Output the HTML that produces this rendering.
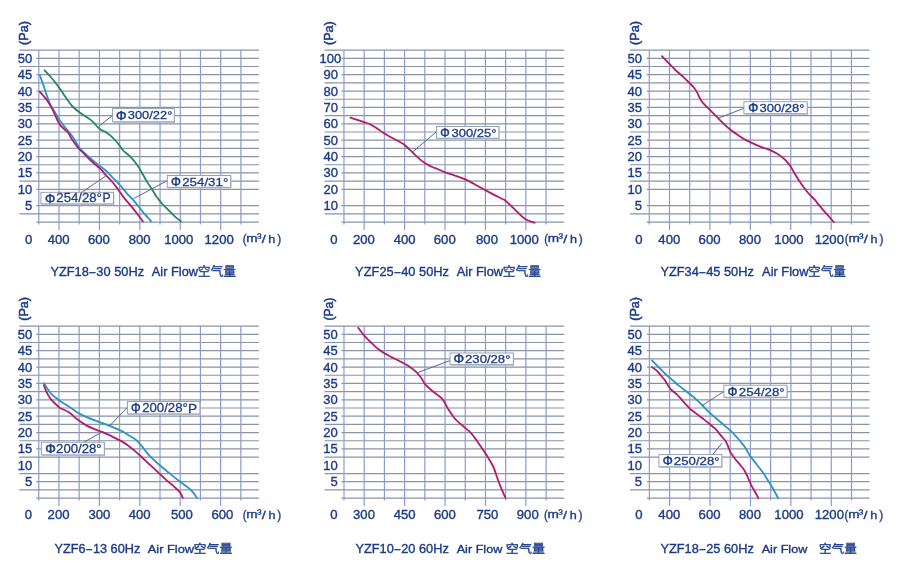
<!DOCTYPE html><html><head><meta charset="utf-8"><title>Fan curves</title><style>html,body{margin:0;padding:0;background:#fff;width:900px;height:578px;overflow:hidden;}svg{display:block;}</style></head><body>
<svg width="900" height="578" viewBox="0 0 900 578">
<rect width="900" height="578" fill="#fff"/>
<line x1="19.4" y1="50.11" x2="259" y2="50.11" stroke="#8893a8" stroke-width="1.2"/>
<line x1="36.3" y1="58.3" x2="259" y2="58.3" stroke="#8893a8" stroke-width="1.2"/>
<line x1="19.4" y1="66.49" x2="259" y2="66.49" stroke="#8893a8" stroke-width="1.2"/>
<line x1="36.3" y1="74.68" x2="259" y2="74.68" stroke="#8893a8" stroke-width="1.2"/>
<line x1="19.4" y1="82.87" x2="259" y2="82.87" stroke="#8893a8" stroke-width="1.2"/>
<line x1="36.3" y1="91.06" x2="259" y2="91.06" stroke="#8893a8" stroke-width="1.2"/>
<line x1="19.4" y1="99.25" x2="259" y2="99.25" stroke="#8893a8" stroke-width="1.2"/>
<line x1="36.3" y1="107.44" x2="259" y2="107.44" stroke="#8893a8" stroke-width="1.2"/>
<line x1="19.4" y1="115.63" x2="259" y2="115.63" stroke="#8893a8" stroke-width="1.2"/>
<line x1="36.3" y1="123.82" x2="259" y2="123.82" stroke="#8893a8" stroke-width="1.2"/>
<line x1="19.4" y1="132.01" x2="259" y2="132.01" stroke="#8893a8" stroke-width="1.2"/>
<line x1="36.3" y1="140.2" x2="259" y2="140.2" stroke="#8893a8" stroke-width="1.2"/>
<line x1="19.4" y1="148.39" x2="259" y2="148.39" stroke="#8893a8" stroke-width="1.2"/>
<line x1="36.3" y1="156.58" x2="259" y2="156.58" stroke="#8893a8" stroke-width="1.2"/>
<line x1="19.4" y1="164.77" x2="259" y2="164.77" stroke="#8893a8" stroke-width="1.2"/>
<line x1="36.3" y1="172.96" x2="259" y2="172.96" stroke="#8893a8" stroke-width="1.2"/>
<line x1="19.4" y1="181.15" x2="259" y2="181.15" stroke="#8893a8" stroke-width="1.2"/>
<line x1="36.3" y1="189.34" x2="259" y2="189.34" stroke="#8893a8" stroke-width="1.2"/>
<line x1="36.3" y1="205.72" x2="259" y2="205.72" stroke="#8893a8" stroke-width="1.2"/>
<line x1="19.4" y1="213.91" x2="259" y2="213.91" stroke="#8893a8" stroke-width="1.2"/>
<line x1="36.3" y1="222.1" x2="259" y2="222.1" stroke="#8893a8" stroke-width="1.2"/>
<line x1="38.8" y1="50.11" x2="38.8" y2="224.4" stroke="#8d9acc" stroke-width="1.2"/>
<line x1="59.01" y1="50.11" x2="59.01" y2="230.1" stroke="#8d9acc" stroke-width="1.2"/>
<line x1="79.22" y1="50.11" x2="79.22" y2="224.4" stroke="#8d9acc" stroke-width="1.2"/>
<line x1="99.43" y1="50.11" x2="99.43" y2="230.1" stroke="#8d9acc" stroke-width="1.2"/>
<line x1="119.64" y1="50.11" x2="119.64" y2="224.4" stroke="#8d9acc" stroke-width="1.2"/>
<line x1="139.85" y1="50.11" x2="139.85" y2="230.1" stroke="#8d9acc" stroke-width="1.2"/>
<line x1="160.06" y1="50.11" x2="160.06" y2="224.4" stroke="#8d9acc" stroke-width="1.2"/>
<line x1="180.27" y1="50.11" x2="180.27" y2="230.1" stroke="#8d9acc" stroke-width="1.2"/>
<line x1="200.48" y1="50.11" x2="200.48" y2="224.4" stroke="#8d9acc" stroke-width="1.2"/>
<line x1="220.69" y1="50.11" x2="220.69" y2="230.1" stroke="#8d9acc" stroke-width="1.2"/>
<line x1="240.9" y1="50.11" x2="240.9" y2="224.4" stroke="#8d9acc" stroke-width="1.2"/>
<line x1="324.55" y1="50.11" x2="564.15" y2="50.11" stroke="#8893a8" stroke-width="1.2"/>
<line x1="341.45" y1="58.3" x2="564.15" y2="58.3" stroke="#8893a8" stroke-width="1.2"/>
<line x1="324.55" y1="66.49" x2="564.15" y2="66.49" stroke="#8893a8" stroke-width="1.2"/>
<line x1="341.45" y1="74.68" x2="564.15" y2="74.68" stroke="#8893a8" stroke-width="1.2"/>
<line x1="324.55" y1="82.87" x2="564.15" y2="82.87" stroke="#8893a8" stroke-width="1.2"/>
<line x1="341.45" y1="91.06" x2="564.15" y2="91.06" stroke="#8893a8" stroke-width="1.2"/>
<line x1="324.55" y1="99.25" x2="564.15" y2="99.25" stroke="#8893a8" stroke-width="1.2"/>
<line x1="341.45" y1="107.44" x2="564.15" y2="107.44" stroke="#8893a8" stroke-width="1.2"/>
<line x1="324.55" y1="115.63" x2="564.15" y2="115.63" stroke="#8893a8" stroke-width="1.2"/>
<line x1="341.45" y1="123.82" x2="564.15" y2="123.82" stroke="#8893a8" stroke-width="1.2"/>
<line x1="324.55" y1="132.01" x2="564.15" y2="132.01" stroke="#8893a8" stroke-width="1.2"/>
<line x1="341.45" y1="140.2" x2="564.15" y2="140.2" stroke="#8893a8" stroke-width="1.2"/>
<line x1="324.55" y1="148.39" x2="564.15" y2="148.39" stroke="#8893a8" stroke-width="1.2"/>
<line x1="341.45" y1="156.58" x2="564.15" y2="156.58" stroke="#8893a8" stroke-width="1.2"/>
<line x1="324.55" y1="164.77" x2="564.15" y2="164.77" stroke="#8893a8" stroke-width="1.2"/>
<line x1="341.45" y1="172.96" x2="564.15" y2="172.96" stroke="#8893a8" stroke-width="1.2"/>
<line x1="324.55" y1="181.15" x2="564.15" y2="181.15" stroke="#8893a8" stroke-width="1.2"/>
<line x1="341.45" y1="189.34" x2="564.15" y2="189.34" stroke="#8893a8" stroke-width="1.2"/>
<line x1="341.45" y1="205.72" x2="564.15" y2="205.72" stroke="#8893a8" stroke-width="1.2"/>
<line x1="324.55" y1="213.91" x2="564.15" y2="213.91" stroke="#8893a8" stroke-width="1.2"/>
<line x1="341.45" y1="222.1" x2="564.15" y2="222.1" stroke="#8893a8" stroke-width="1.2"/>
<line x1="343.95" y1="50.11" x2="343.95" y2="224.4" stroke="#8d9acc" stroke-width="1.2"/>
<line x1="364.16" y1="50.11" x2="364.16" y2="230.1" stroke="#8d9acc" stroke-width="1.2"/>
<line x1="384.37" y1="50.11" x2="384.37" y2="224.4" stroke="#8d9acc" stroke-width="1.2"/>
<line x1="404.58" y1="50.11" x2="404.58" y2="230.1" stroke="#8d9acc" stroke-width="1.2"/>
<line x1="424.79" y1="50.11" x2="424.79" y2="224.4" stroke="#8d9acc" stroke-width="1.2"/>
<line x1="445" y1="50.11" x2="445" y2="230.1" stroke="#8d9acc" stroke-width="1.2"/>
<line x1="465.21" y1="50.11" x2="465.21" y2="224.4" stroke="#8d9acc" stroke-width="1.2"/>
<line x1="485.42" y1="50.11" x2="485.42" y2="230.1" stroke="#8d9acc" stroke-width="1.2"/>
<line x1="505.63" y1="50.11" x2="505.63" y2="224.4" stroke="#8d9acc" stroke-width="1.2"/>
<line x1="525.84" y1="50.11" x2="525.84" y2="230.1" stroke="#8d9acc" stroke-width="1.2"/>
<line x1="546.05" y1="50.11" x2="546.05" y2="224.4" stroke="#8d9acc" stroke-width="1.2"/>
<line x1="629.9" y1="50.11" x2="869.5" y2="50.11" stroke="#8893a8" stroke-width="1.2"/>
<line x1="646.8" y1="58.3" x2="869.5" y2="58.3" stroke="#8893a8" stroke-width="1.2"/>
<line x1="629.9" y1="66.49" x2="869.5" y2="66.49" stroke="#8893a8" stroke-width="1.2"/>
<line x1="646.8" y1="74.68" x2="869.5" y2="74.68" stroke="#8893a8" stroke-width="1.2"/>
<line x1="629.9" y1="82.87" x2="869.5" y2="82.87" stroke="#8893a8" stroke-width="1.2"/>
<line x1="646.8" y1="91.06" x2="869.5" y2="91.06" stroke="#8893a8" stroke-width="1.2"/>
<line x1="629.9" y1="99.25" x2="869.5" y2="99.25" stroke="#8893a8" stroke-width="1.2"/>
<line x1="646.8" y1="107.44" x2="869.5" y2="107.44" stroke="#8893a8" stroke-width="1.2"/>
<line x1="629.9" y1="115.63" x2="869.5" y2="115.63" stroke="#8893a8" stroke-width="1.2"/>
<line x1="646.8" y1="123.82" x2="869.5" y2="123.82" stroke="#8893a8" stroke-width="1.2"/>
<line x1="629.9" y1="132.01" x2="869.5" y2="132.01" stroke="#8893a8" stroke-width="1.2"/>
<line x1="646.8" y1="140.2" x2="869.5" y2="140.2" stroke="#8893a8" stroke-width="1.2"/>
<line x1="629.9" y1="148.39" x2="869.5" y2="148.39" stroke="#8893a8" stroke-width="1.2"/>
<line x1="646.8" y1="156.58" x2="869.5" y2="156.58" stroke="#8893a8" stroke-width="1.2"/>
<line x1="629.9" y1="164.77" x2="869.5" y2="164.77" stroke="#8893a8" stroke-width="1.2"/>
<line x1="646.8" y1="172.96" x2="869.5" y2="172.96" stroke="#8893a8" stroke-width="1.2"/>
<line x1="629.9" y1="181.15" x2="869.5" y2="181.15" stroke="#8893a8" stroke-width="1.2"/>
<line x1="646.8" y1="189.34" x2="869.5" y2="189.34" stroke="#8893a8" stroke-width="1.2"/>
<line x1="646.8" y1="205.72" x2="869.5" y2="205.72" stroke="#8893a8" stroke-width="1.2"/>
<line x1="629.9" y1="213.91" x2="869.5" y2="213.91" stroke="#8893a8" stroke-width="1.2"/>
<line x1="646.8" y1="222.1" x2="869.5" y2="222.1" stroke="#8893a8" stroke-width="1.2"/>
<line x1="649.3" y1="50.11" x2="649.3" y2="224.4" stroke="#8d9acc" stroke-width="1.2"/>
<line x1="669.51" y1="50.11" x2="669.51" y2="230.1" stroke="#8d9acc" stroke-width="1.2"/>
<line x1="689.72" y1="50.11" x2="689.72" y2="224.4" stroke="#8d9acc" stroke-width="1.2"/>
<line x1="709.93" y1="50.11" x2="709.93" y2="230.1" stroke="#8d9acc" stroke-width="1.2"/>
<line x1="730.14" y1="50.11" x2="730.14" y2="224.4" stroke="#8d9acc" stroke-width="1.2"/>
<line x1="750.35" y1="50.11" x2="750.35" y2="230.1" stroke="#8d9acc" stroke-width="1.2"/>
<line x1="770.56" y1="50.11" x2="770.56" y2="224.4" stroke="#8d9acc" stroke-width="1.2"/>
<line x1="790.77" y1="50.11" x2="790.77" y2="230.1" stroke="#8d9acc" stroke-width="1.2"/>
<line x1="810.98" y1="50.11" x2="810.98" y2="224.4" stroke="#8d9acc" stroke-width="1.2"/>
<line x1="831.19" y1="50.11" x2="831.19" y2="230.1" stroke="#8d9acc" stroke-width="1.2"/>
<line x1="851.4" y1="50.11" x2="851.4" y2="224.4" stroke="#8d9acc" stroke-width="1.2"/>
<line x1="19.35" y1="326.11" x2="258.95" y2="326.11" stroke="#8893a8" stroke-width="1.2"/>
<line x1="36.25" y1="334.3" x2="258.95" y2="334.3" stroke="#8893a8" stroke-width="1.2"/>
<line x1="19.35" y1="342.49" x2="258.95" y2="342.49" stroke="#8893a8" stroke-width="1.2"/>
<line x1="36.25" y1="350.68" x2="258.95" y2="350.68" stroke="#8893a8" stroke-width="1.2"/>
<line x1="19.35" y1="358.87" x2="258.95" y2="358.87" stroke="#8893a8" stroke-width="1.2"/>
<line x1="36.25" y1="367.06" x2="258.95" y2="367.06" stroke="#8893a8" stroke-width="1.2"/>
<line x1="19.35" y1="375.25" x2="258.95" y2="375.25" stroke="#8893a8" stroke-width="1.2"/>
<line x1="36.25" y1="383.44" x2="258.95" y2="383.44" stroke="#8893a8" stroke-width="1.2"/>
<line x1="19.35" y1="391.63" x2="258.95" y2="391.63" stroke="#8893a8" stroke-width="1.2"/>
<line x1="36.25" y1="399.82" x2="258.95" y2="399.82" stroke="#8893a8" stroke-width="1.2"/>
<line x1="19.35" y1="408.01" x2="258.95" y2="408.01" stroke="#8893a8" stroke-width="1.2"/>
<line x1="36.25" y1="416.2" x2="258.95" y2="416.2" stroke="#8893a8" stroke-width="1.2"/>
<line x1="19.35" y1="424.39" x2="258.95" y2="424.39" stroke="#8893a8" stroke-width="1.2"/>
<line x1="36.25" y1="432.58" x2="258.95" y2="432.58" stroke="#8893a8" stroke-width="1.2"/>
<line x1="19.35" y1="440.77" x2="258.95" y2="440.77" stroke="#8893a8" stroke-width="1.2"/>
<line x1="36.25" y1="448.96" x2="258.95" y2="448.96" stroke="#8893a8" stroke-width="1.2"/>
<line x1="19.35" y1="457.15" x2="258.95" y2="457.15" stroke="#8893a8" stroke-width="1.2"/>
<line x1="19.35" y1="473.53" x2="258.95" y2="473.53" stroke="#8893a8" stroke-width="1.2"/>
<line x1="36.25" y1="481.72" x2="258.95" y2="481.72" stroke="#8893a8" stroke-width="1.2"/>
<line x1="19.35" y1="489.91" x2="258.95" y2="489.91" stroke="#8893a8" stroke-width="1.2"/>
<line x1="36.25" y1="498.1" x2="258.95" y2="498.1" stroke="#8893a8" stroke-width="1.2"/>
<line x1="38.75" y1="326.11" x2="38.75" y2="500.4" stroke="#8d9acc" stroke-width="1.2"/>
<line x1="58.96" y1="326.11" x2="58.96" y2="506.1" stroke="#8d9acc" stroke-width="1.2"/>
<line x1="79.17" y1="326.11" x2="79.17" y2="500.4" stroke="#8d9acc" stroke-width="1.2"/>
<line x1="99.38" y1="326.11" x2="99.38" y2="506.1" stroke="#8d9acc" stroke-width="1.2"/>
<line x1="119.59" y1="326.11" x2="119.59" y2="500.4" stroke="#8d9acc" stroke-width="1.2"/>
<line x1="139.8" y1="326.11" x2="139.8" y2="506.1" stroke="#8d9acc" stroke-width="1.2"/>
<line x1="160.01" y1="326.11" x2="160.01" y2="500.4" stroke="#8d9acc" stroke-width="1.2"/>
<line x1="180.22" y1="326.11" x2="180.22" y2="506.1" stroke="#8d9acc" stroke-width="1.2"/>
<line x1="200.43" y1="326.11" x2="200.43" y2="500.4" stroke="#8d9acc" stroke-width="1.2"/>
<line x1="220.64" y1="326.11" x2="220.64" y2="506.1" stroke="#8d9acc" stroke-width="1.2"/>
<line x1="240.85" y1="326.11" x2="240.85" y2="500.4" stroke="#8d9acc" stroke-width="1.2"/>
<line x1="324.6" y1="326.11" x2="564.2" y2="326.11" stroke="#8893a8" stroke-width="1.2"/>
<line x1="341.5" y1="334.3" x2="564.2" y2="334.3" stroke="#8893a8" stroke-width="1.2"/>
<line x1="324.6" y1="342.49" x2="564.2" y2="342.49" stroke="#8893a8" stroke-width="1.2"/>
<line x1="341.5" y1="350.68" x2="564.2" y2="350.68" stroke="#8893a8" stroke-width="1.2"/>
<line x1="324.6" y1="358.87" x2="564.2" y2="358.87" stroke="#8893a8" stroke-width="1.2"/>
<line x1="341.5" y1="367.06" x2="564.2" y2="367.06" stroke="#8893a8" stroke-width="1.2"/>
<line x1="324.6" y1="375.25" x2="564.2" y2="375.25" stroke="#8893a8" stroke-width="1.2"/>
<line x1="341.5" y1="383.44" x2="564.2" y2="383.44" stroke="#8893a8" stroke-width="1.2"/>
<line x1="324.6" y1="391.63" x2="564.2" y2="391.63" stroke="#8893a8" stroke-width="1.2"/>
<line x1="341.5" y1="399.82" x2="564.2" y2="399.82" stroke="#8893a8" stroke-width="1.2"/>
<line x1="324.6" y1="408.01" x2="564.2" y2="408.01" stroke="#8893a8" stroke-width="1.2"/>
<line x1="341.5" y1="416.2" x2="564.2" y2="416.2" stroke="#8893a8" stroke-width="1.2"/>
<line x1="324.6" y1="424.39" x2="564.2" y2="424.39" stroke="#8893a8" stroke-width="1.2"/>
<line x1="341.5" y1="432.58" x2="564.2" y2="432.58" stroke="#8893a8" stroke-width="1.2"/>
<line x1="324.6" y1="440.77" x2="564.2" y2="440.77" stroke="#8893a8" stroke-width="1.2"/>
<line x1="341.5" y1="448.96" x2="564.2" y2="448.96" stroke="#8893a8" stroke-width="1.2"/>
<line x1="324.6" y1="457.15" x2="564.2" y2="457.15" stroke="#8893a8" stroke-width="1.2"/>
<line x1="324.6" y1="473.53" x2="564.2" y2="473.53" stroke="#8893a8" stroke-width="1.2"/>
<line x1="341.5" y1="481.72" x2="564.2" y2="481.72" stroke="#8893a8" stroke-width="1.2"/>
<line x1="324.6" y1="489.91" x2="564.2" y2="489.91" stroke="#8893a8" stroke-width="1.2"/>
<line x1="341.5" y1="498.1" x2="564.2" y2="498.1" stroke="#8893a8" stroke-width="1.2"/>
<line x1="344" y1="326.11" x2="344" y2="500.4" stroke="#8d9acc" stroke-width="1.2"/>
<line x1="364.21" y1="326.11" x2="364.21" y2="506.1" stroke="#8d9acc" stroke-width="1.2"/>
<line x1="384.42" y1="326.11" x2="384.42" y2="500.4" stroke="#8d9acc" stroke-width="1.2"/>
<line x1="404.63" y1="326.11" x2="404.63" y2="506.1" stroke="#8d9acc" stroke-width="1.2"/>
<line x1="424.84" y1="326.11" x2="424.84" y2="500.4" stroke="#8d9acc" stroke-width="1.2"/>
<line x1="445.05" y1="326.11" x2="445.05" y2="506.1" stroke="#8d9acc" stroke-width="1.2"/>
<line x1="465.26" y1="326.11" x2="465.26" y2="500.4" stroke="#8d9acc" stroke-width="1.2"/>
<line x1="485.47" y1="326.11" x2="485.47" y2="506.1" stroke="#8d9acc" stroke-width="1.2"/>
<line x1="505.68" y1="326.11" x2="505.68" y2="500.4" stroke="#8d9acc" stroke-width="1.2"/>
<line x1="525.89" y1="326.11" x2="525.89" y2="506.1" stroke="#8d9acc" stroke-width="1.2"/>
<line x1="546.1" y1="326.11" x2="546.1" y2="500.4" stroke="#8d9acc" stroke-width="1.2"/>
<line x1="630" y1="326.11" x2="869.6" y2="326.11" stroke="#8893a8" stroke-width="1.2"/>
<line x1="646.9" y1="334.3" x2="869.6" y2="334.3" stroke="#8893a8" stroke-width="1.2"/>
<line x1="630" y1="342.49" x2="869.6" y2="342.49" stroke="#8893a8" stroke-width="1.2"/>
<line x1="646.9" y1="350.68" x2="869.6" y2="350.68" stroke="#8893a8" stroke-width="1.2"/>
<line x1="630" y1="358.87" x2="869.6" y2="358.87" stroke="#8893a8" stroke-width="1.2"/>
<line x1="646.9" y1="367.06" x2="869.6" y2="367.06" stroke="#8893a8" stroke-width="1.2"/>
<line x1="630" y1="375.25" x2="869.6" y2="375.25" stroke="#8893a8" stroke-width="1.2"/>
<line x1="646.9" y1="383.44" x2="869.6" y2="383.44" stroke="#8893a8" stroke-width="1.2"/>
<line x1="630" y1="391.63" x2="869.6" y2="391.63" stroke="#8893a8" stroke-width="1.2"/>
<line x1="646.9" y1="399.82" x2="869.6" y2="399.82" stroke="#8893a8" stroke-width="1.2"/>
<line x1="630" y1="408.01" x2="869.6" y2="408.01" stroke="#8893a8" stroke-width="1.2"/>
<line x1="646.9" y1="416.2" x2="869.6" y2="416.2" stroke="#8893a8" stroke-width="1.2"/>
<line x1="630" y1="424.39" x2="869.6" y2="424.39" stroke="#8893a8" stroke-width="1.2"/>
<line x1="646.9" y1="432.58" x2="869.6" y2="432.58" stroke="#8893a8" stroke-width="1.2"/>
<line x1="630" y1="440.77" x2="869.6" y2="440.77" stroke="#8893a8" stroke-width="1.2"/>
<line x1="646.9" y1="448.96" x2="869.6" y2="448.96" stroke="#8893a8" stroke-width="1.2"/>
<line x1="630" y1="457.15" x2="869.6" y2="457.15" stroke="#8893a8" stroke-width="1.2"/>
<line x1="630" y1="473.53" x2="869.6" y2="473.53" stroke="#8893a8" stroke-width="1.2"/>
<line x1="646.9" y1="481.72" x2="869.6" y2="481.72" stroke="#8893a8" stroke-width="1.2"/>
<line x1="630" y1="489.91" x2="869.6" y2="489.91" stroke="#8893a8" stroke-width="1.2"/>
<line x1="646.9" y1="498.1" x2="869.6" y2="498.1" stroke="#8893a8" stroke-width="1.2"/>
<line x1="649.4" y1="326.11" x2="649.4" y2="500.4" stroke="#8d9acc" stroke-width="1.2"/>
<line x1="669.61" y1="326.11" x2="669.61" y2="506.1" stroke="#8d9acc" stroke-width="1.2"/>
<line x1="689.82" y1="326.11" x2="689.82" y2="500.4" stroke="#8d9acc" stroke-width="1.2"/>
<line x1="710.03" y1="326.11" x2="710.03" y2="506.1" stroke="#8d9acc" stroke-width="1.2"/>
<line x1="730.24" y1="326.11" x2="730.24" y2="500.4" stroke="#8d9acc" stroke-width="1.2"/>
<line x1="750.45" y1="326.11" x2="750.45" y2="506.1" stroke="#8d9acc" stroke-width="1.2"/>
<line x1="770.66" y1="326.11" x2="770.66" y2="500.4" stroke="#8d9acc" stroke-width="1.2"/>
<line x1="790.87" y1="326.11" x2="790.87" y2="506.1" stroke="#8d9acc" stroke-width="1.2"/>
<line x1="811.08" y1="326.11" x2="811.08" y2="500.4" stroke="#8d9acc" stroke-width="1.2"/>
<line x1="831.29" y1="326.11" x2="831.29" y2="506.1" stroke="#8d9acc" stroke-width="1.2"/>
<line x1="851.5" y1="326.11" x2="851.5" y2="500.4" stroke="#8d9acc" stroke-width="1.2"/>
<path d="M44.7,70.4 C45.85,71.67 49.18,75.12 51.6,78 C54.02,80.88 57,84.7 59.2,87.7 C61.4,90.7 63.17,93.62 64.8,96 C66.43,98.38 67.62,100.17 69,102 C70.38,103.83 71.15,105.12 73.1,107 C75.05,108.88 77.88,111.23 80.7,113.3 C83.52,115.37 87.67,117.67 90,119.4 C92.33,121.13 93.4,122.4 94.7,123.7 C96,125 96.63,126.1 97.8,127.2 C98.97,128.3 100.4,129.52 101.7,130.3 C103,131.08 104.18,131.05 105.6,131.9 C107.02,132.75 108.65,134.05 110.2,135.4 C111.75,136.75 113.33,138.32 114.9,140 C116.47,141.68 118.3,143.83 119.6,145.5 C120.9,147.17 120.88,148.1 122.7,150 C124.52,151.9 128.05,154.37 130.5,156.9 C132.95,159.43 135.55,162.65 137.4,165.2 C139.25,167.75 139.98,169.42 141.6,172.2 C143.22,174.98 145.27,178.9 147.1,181.9 C148.93,184.9 150.98,187.67 152.6,190.2 C154.22,192.73 155.18,194.8 156.8,197.1 C158.42,199.4 160.22,201.7 162.3,204 C164.38,206.3 167.1,208.7 169.3,210.9 C171.5,213.1 173.55,215.47 175.5,217.2 C177.45,218.93 180.08,220.62 181,221.3" fill="none" stroke="#22895a" stroke-width="1.8" stroke-linecap="round" stroke-linejoin="round"/>
<path d="M39.8,75.2 C40.38,76.82 42.27,81.9 43.3,84.9 C44.33,87.9 44.85,89.97 46,93.2 C47.15,96.43 48.8,101.3 50.2,104.3 C51.6,107.3 52.9,108.67 54.4,111.2 C55.9,113.73 57.37,116.73 59.2,119.5 C61.03,122.27 63.18,124.95 65.4,127.8 C67.62,130.65 70.17,133.28 72.5,136.6 C74.83,139.92 77.1,144.7 79.4,147.7 C81.7,150.7 83.53,152.07 86.3,154.6 C89.07,157.13 92.77,160.25 96,162.9 C99.23,165.55 102.78,167.93 105.7,170.5 C108.62,173.07 110.98,175.72 113.5,178.3 C116.02,180.88 118.43,183.33 120.8,186 C123.17,188.67 125.63,191.98 127.7,194.3 C129.77,196.62 131.35,197.82 133.2,199.9 C135.05,201.98 136.95,204.5 138.8,206.8 C140.65,209.1 142.23,211.28 144.3,213.7 C146.37,216.12 150.05,220.03 151.2,221.3" fill="none" stroke="#2c93c6" stroke-width="1.8" stroke-linecap="round" stroke-linejoin="round"/>
<path d="M39.8,91.8 C40.62,92.73 43.2,95.55 44.7,97.4 C46.2,99.25 47.53,100.95 48.8,102.9 C50.07,104.85 51.13,106.8 52.3,109.1 C53.47,111.4 54.65,114.27 55.8,116.7 C56.95,119.13 57.82,121.62 59.2,123.7 C60.58,125.78 62.6,127.7 64.1,129.2 C65.6,130.7 67.03,131.23 68.2,132.7 C69.37,134.17 69.47,135.5 71.1,138 C72.73,140.5 75.93,145.17 78,147.7 C80.07,150.23 81.2,150.9 83.5,153.2 C85.8,155.5 88.8,158.73 91.8,161.5 C94.8,164.27 99.22,167.57 101.5,169.8 C103.78,172.03 103.9,173.12 105.5,174.9 C107.1,176.68 109.25,178.42 111.1,180.5 C112.95,182.58 114.53,184.63 116.6,187.4 C118.67,190.17 121.18,194.1 123.5,197.1 C125.82,200.1 128.42,202.87 130.5,205.4 C132.58,207.93 133.93,209.65 136,212.3 C138.07,214.95 141.75,219.8 142.9,221.3" fill="none" stroke="#b21a70" stroke-width="1.8" stroke-linecap="round" stroke-linejoin="round"/>
<path d="M350.4,117.7 C351.67,118.1 355.7,119.35 358,120.1 C360.3,120.85 362.23,121.52 364.2,122.2 C366.17,122.88 367.83,123.28 369.8,124.2 C371.77,125.12 373.82,126.32 376,127.7 C378.18,129.08 380.58,131 382.9,132.5 C385.22,134 387.58,135.42 389.9,136.7 C392.22,137.98 394.5,138.93 396.8,140.2 C399.1,141.47 401.63,142.8 403.7,144.3 C405.77,145.8 407.35,147.47 409.2,149.2 C411.05,150.93 412.95,152.97 414.8,154.7 C416.65,156.43 418.45,158.1 420.3,159.6 C422.15,161.1 423.82,162.43 425.9,163.7 C427.98,164.97 430.85,166.32 432.8,167.2 C434.75,168.08 435.53,168.15 437.6,169 C439.67,169.85 442.35,171.22 445.2,172.3 C448.05,173.38 451.53,174.4 454.7,175.5 C457.87,176.6 461.03,177.53 464.2,178.9 C467.37,180.27 470.22,181.85 473.7,183.7 C477.18,185.55 481.62,188.1 485.1,190 C488.58,191.9 491.43,193.47 494.6,195.1 C497.77,196.73 501.57,198.22 504.1,199.8 C506.63,201.38 507.57,202.53 509.8,204.6 C512.03,206.67 514.95,209.82 517.5,212.2 C520.05,214.58 522.25,217.15 525.1,218.9 C527.95,220.65 533.02,222.07 534.6,222.7" fill="none" stroke="#b21a70" stroke-width="1.8" stroke-linecap="round" stroke-linejoin="round"/>
<path d="M661.9,56.2 C663.15,57.47 667,61.37 669.4,63.8 C671.8,66.23 674,68.63 676.3,70.8 C678.6,72.97 681.03,74.78 683.2,76.8 C685.37,78.82 687.57,81.17 689.3,82.9 C691.03,84.63 692.3,85.62 693.6,87.2 C694.9,88.78 696.08,90.6 697.1,92.4 C698.12,94.2 698.78,96.3 699.7,98 C700.62,99.7 701.32,101.03 702.6,102.6 C703.88,104.17 705.82,105.82 707.4,107.4 C708.98,108.98 710.2,110.2 712.1,112.1 C714,114 716.58,116.58 718.8,118.8 C721.02,121.02 723.35,123.5 725.4,125.4 C727.45,127.3 729.03,128.62 731.1,130.2 C733.17,131.78 735.58,133.4 737.8,134.9 C740.02,136.4 742.35,138 744.4,139.2 C746.45,140.4 748.33,141.25 750.1,142.1 C751.87,142.95 752.97,143.43 755,144.3 C757.03,145.17 759.88,146.37 762.3,147.3 C764.72,148.23 767.08,148.87 769.5,149.9 C771.92,150.93 774.72,152.3 776.8,153.5 C778.88,154.7 780.43,155.88 782,157.1 C783.57,158.32 784.82,159.32 786.2,160.8 C787.58,162.28 788.92,163.93 790.3,166 C791.68,168.07 792.93,170.62 794.5,173.2 C796.07,175.78 797.98,178.9 799.7,181.5 C801.42,184.1 803.08,186.55 804.8,188.8 C806.52,191.05 808.43,193.27 810,195 C811.57,196.73 812.87,197.73 814.2,199.2 C815.53,200.67 816.35,201.82 818,203.8 C819.65,205.78 822.27,208.98 824.1,211.1 C825.93,213.22 827.38,214.68 829,216.5 C830.62,218.32 833,221.08 833.8,222" fill="none" stroke="#b21a70" stroke-width="1.8" stroke-linecap="round" stroke-linejoin="round"/>
<path d="M43.9,383.2 C44.58,384.23 46.62,387.45 48,389.4 C49.38,391.35 50.7,393.4 52.2,394.9 C53.7,396.4 55.7,397.37 57,398.4 C58.3,399.43 58.02,399.77 60,401.1 C61.98,402.43 65.93,404.47 68.9,406.4 C71.87,408.33 74.83,410.92 77.8,412.7 C80.77,414.48 83.73,415.77 86.7,417.1 C89.67,418.43 92.65,419.58 95.6,420.7 C98.55,421.82 101.45,422.7 104.4,423.8 C107.35,424.9 110.33,426.05 113.3,427.3 C116.27,428.55 119.75,430.03 122.2,431.3 C124.65,432.57 126,433.68 128,434.9 C130,436.12 132.33,437.25 134.2,438.6 C136.07,439.95 137.53,441.23 139.2,443 C140.87,444.77 142.33,446.92 144.2,449.2 C146.07,451.48 147.9,454.1 150.4,456.7 C152.9,459.3 156.08,462.1 159.2,464.8 C162.32,467.5 165.78,470.2 169.1,472.9 C172.42,475.6 175.77,478.42 179.1,481 C182.43,483.58 186.82,486.53 189.1,488.4 C191.38,490.27 191.45,490.58 192.8,492.2 C194.15,493.82 196.47,497.12 197.2,498.1" fill="none" stroke="#2c93c6" stroke-width="1.8" stroke-linecap="round" stroke-linejoin="round"/>
<path d="M43.9,385.2 C44.35,386.37 45.45,389.88 46.6,392.2 C47.75,394.52 48.95,396.8 50.8,399.1 C52.65,401.4 56.17,404.52 57.7,406 C59.23,407.48 58.13,406.97 60,408 C61.87,409.03 65.93,410.23 68.9,412.2 C71.87,414.17 74.83,417.57 77.8,419.8 C80.77,422.03 83.73,423.97 86.7,425.6 C89.67,427.23 92.93,428.5 95.6,429.6 C98.27,430.7 99.75,430.95 102.7,432.2 C105.65,433.45 110.05,435.53 113.3,437.1 C116.55,438.67 119.75,440.22 122.2,441.6 C124.65,442.98 126,443.93 128,445.4 C130,446.87 132.12,448.63 134.2,450.4 C136.28,452.17 138,453.72 140.5,456 C143,458.28 146.3,461.4 149.2,464.1 C152.1,466.8 155,469.5 157.9,472.2 C160.8,474.9 163.68,477.7 166.6,480.3 C169.52,482.9 173.12,485.72 175.4,487.8 C177.68,489.88 179.07,491.13 180.3,492.8 C181.53,494.47 182.38,496.97 182.8,497.8" fill="none" stroke="#b21a70" stroke-width="1.8" stroke-linecap="round" stroke-linejoin="round"/>
<path d="M358.2,327.8 C359.2,329.1 362.05,333.15 364.2,335.6 C366.35,338.05 368.5,340.05 371.1,342.5 C373.7,344.95 376.92,348.13 379.8,350.3 C382.68,352.47 385.23,353.77 388.4,355.5 C391.57,357.23 395.33,358.88 398.8,360.7 C402.27,362.52 406.32,364.53 409.2,366.4 C412.08,368.27 414.08,369.97 416.1,371.9 C418.12,373.83 419.72,375.83 421.3,378 C422.88,380.17 423.58,382.6 425.6,384.9 C427.62,387.2 430.65,389.5 433.4,391.8 C436.15,394.1 439.58,395.75 442.1,398.7 C444.62,401.65 446.32,406.12 448.5,409.5 C450.68,412.88 452.67,416.15 455.2,419 C457.73,421.85 461.02,424.22 463.7,426.6 C466.38,428.98 468.77,430.45 471.3,433.3 C473.83,436.15 476.37,440.07 478.9,443.7 C481.43,447.33 484.12,451.3 486.5,455.1 C488.88,458.9 491.3,462.38 493.2,466.5 C495.1,470.62 496.48,475.98 497.9,479.8 C499.32,483.62 500.43,486.4 501.7,489.4 C502.97,492.4 504.87,496.4 505.5,497.8" fill="none" stroke="#b21a70" stroke-width="1.8" stroke-linecap="round" stroke-linejoin="round"/>
<path d="M652,360.5 C653.17,361.67 656.67,365.17 659,367.5 C661.33,369.83 663.78,372.43 666,374.5 C668.22,376.57 670.22,378.08 672.3,379.9 C674.38,381.72 676.3,383.58 678.5,385.4 C680.7,387.22 683.42,389.2 685.5,390.8 C687.58,392.4 689.13,393.5 691,395 C692.87,396.5 694.8,398.05 696.7,399.8 C698.6,401.55 700.35,403.45 702.4,405.5 C704.45,407.55 706.63,409.88 709,412.1 C711.37,414.32 714.22,416.73 716.6,418.8 C718.98,420.87 721.08,422.6 723.3,424.5 C725.52,426.4 727.85,428.3 729.9,430.2 C731.95,432.1 733.7,433.85 735.6,435.9 C737.5,437.95 739.65,440.48 741.3,442.5 C742.95,444.52 744.1,445.87 745.5,448 C746.9,450.13 747.88,452.63 749.7,455.3 C751.52,457.97 754.18,461.12 756.4,464 C758.62,466.88 761.1,469.9 763,472.6 C764.9,475.3 766.22,477.67 767.8,480.2 C769.38,482.73 770.77,484.8 772.5,487.8 C774.23,490.8 777.25,496.47 778.2,498.2" fill="none" stroke="#2c93c6" stroke-width="1.8" stroke-linecap="round" stroke-linejoin="round"/>
<path d="M652,367.1 C652.78,367.68 655.13,369.12 656.7,370.6 C658.27,372.08 659.98,374.32 661.4,376 C662.82,377.68 664.03,379 665.2,380.7 C666.37,382.4 667.35,384.65 668.4,386.2 C669.45,387.75 670.2,388.72 671.5,390 C672.8,391.28 674.65,392.47 676.2,393.9 C677.75,395.33 679.25,396.92 680.8,398.6 C682.35,400.28 683.97,402.3 685.5,404 C687.03,405.7 688.3,407.28 690,408.8 C691.7,410.32 693.63,411.52 695.7,413.1 C697.77,414.68 700.18,416.57 702.4,418.3 C704.62,420.03 706.78,421.68 709,423.5 C711.22,425.32 713.8,427.3 715.7,429.2 C717.6,431.1 718.82,433 720.4,434.9 C721.98,436.8 724.02,438.92 725.2,440.6 C726.38,442.28 726.58,443 727.5,445 C728.42,447 729.37,450.22 730.7,452.6 C732.03,454.98 733.92,457.23 735.5,459.3 C737.08,461.37 738.78,463.27 740.2,465 C741.62,466.73 742.73,467.65 744,469.7 C745.27,471.75 746.53,474.6 747.8,477.3 C749.07,480 750.33,483.37 751.6,485.9 C752.87,488.43 754.28,490.45 755.4,492.5 C756.52,494.55 757.82,497.25 758.3,498.2" fill="none" stroke="#b21a70" stroke-width="1.8" stroke-linecap="round" stroke-linejoin="round"/>
<line x1="98.9" y1="126.2" x2="112.6" y2="115.4" stroke="#56668c" stroke-width="1"/>
<rect x="113.4" y="109.8" width="61.7" height="13.2" fill="#c3c9d4"/>
<rect x="112.6" y="108.6" width="61.7" height="13.2" fill="#fff" stroke="#8d97ad" stroke-width="0.9"/>
<text font-family="&quot;Liberation Sans&quot;, &quot;Noto Sans CJK SC&quot;, sans-serif" fill="#1b3a88" stroke="#1b3a88" stroke-width="0.28"><tspan x="116.03" y="119.89" font-size="12.86" textLength="10.48" lengthAdjust="spacingAndGlyphs" stroke-width="0.5">Φ</tspan><tspan x="127.73" y="119.43" font-size="11.70" textLength="44.57" lengthAdjust="spacingAndGlyphs">300/22°</tspan></text>
<line x1="133.9" y1="198.5" x2="167.5" y2="180.5" stroke="#56668c" stroke-width="1"/>
<rect x="168.1" y="176.7" width="63.4" height="11.8" fill="#c3c9d4"/>
<rect x="167.3" y="175.5" width="63.4" height="11.8" fill="#fff" stroke="#8d97ad" stroke-width="0.9"/>
<text font-family="&quot;Liberation Sans&quot;, &quot;Noto Sans CJK SC&quot;, sans-serif" fill="#1b3a88" stroke="#1b3a88" stroke-width="0.28"><tspan x="171.07" y="186.19" font-size="12.57" textLength="9.90" lengthAdjust="spacingAndGlyphs" stroke-width="0.5">Φ</tspan><tspan x="182.18" y="185.74" font-size="11.43" textLength="46.05" lengthAdjust="spacingAndGlyphs">254/31°</tspan></text>
<line x1="105.7" y1="176" x2="81.8" y2="192.3" stroke="#56668c" stroke-width="1"/>
<rect x="41.7" y="193.5" width="72.6" height="11.6" fill="#c3c9d4"/>
<rect x="40.9" y="192.3" width="72.6" height="11.6" fill="#fff" stroke="#8d97ad" stroke-width="0.9"/>
<text font-family="&quot;Liberation Sans&quot;, &quot;Noto Sans CJK SC&quot;, sans-serif" fill="#1b3a88" stroke="#1b3a88" stroke-width="0.28"><tspan x="45.04" y="202.78" font-size="13.14" textLength="10.25" lengthAdjust="spacingAndGlyphs" stroke-width="0.5">Φ</tspan><tspan x="56.39" y="202.33" font-size="11.97" textLength="45.43" lengthAdjust="spacingAndGlyphs">254/28°</tspan><tspan x="102.38" y="202.45" font-size="12.32" textLength="8.10" lengthAdjust="spacingAndGlyphs">P</tspan></text>
<line x1="412.7" y1="151.9" x2="436.4" y2="131.8" stroke="#56668c" stroke-width="1"/>
<rect x="437.2" y="127.6" width="62.5" height="11.8" fill="#c3c9d4"/>
<rect x="436.4" y="126.4" width="62.5" height="11.8" fill="#fff" stroke="#8d97ad" stroke-width="0.9"/>
<text font-family="&quot;Liberation Sans&quot;, &quot;Noto Sans CJK SC&quot;, sans-serif" fill="#1b3a88" stroke="#1b3a88" stroke-width="0.28"><tspan x="440.2" y="137.09" font-size="12.00" textLength="9.43" lengthAdjust="spacingAndGlyphs" stroke-width="0.5">Φ</tspan><tspan x="451.43" y="136.64" font-size="10.88" textLength="44.98" lengthAdjust="spacingAndGlyphs">300/25°</tspan></text>
<line x1="719.2" y1="117.8" x2="744" y2="108.3" stroke="#56668c" stroke-width="1"/>
<rect x="744.7" y="102.9" width="63.3" height="12" fill="#c3c9d4"/>
<rect x="743.9" y="101.7" width="63.3" height="12" fill="#fff" stroke="#8d97ad" stroke-width="0.9"/>
<text font-family="&quot;Liberation Sans&quot;, &quot;Noto Sans CJK SC&quot;, sans-serif" fill="#1b3a88" stroke="#1b3a88" stroke-width="0.28"><tspan x="748.26" y="112.09" font-size="12.00" textLength="10.02" lengthAdjust="spacingAndGlyphs" stroke-width="0.5">Φ</tspan><tspan x="759.53" y="111.64" font-size="10.88" textLength="44.98" lengthAdjust="spacingAndGlyphs">300/28°</tspan></text>
<line x1="109.3" y1="426.2" x2="127.5" y2="407.2" stroke="#56668c" stroke-width="1"/>
<rect x="128.2" y="402.8" width="72.5" height="12.3" fill="#c3c9d4"/>
<rect x="127.4" y="401.6" width="72.5" height="12.3" fill="#fff" stroke="#8d97ad" stroke-width="0.9"/>
<text font-family="&quot;Liberation Sans&quot;, &quot;Noto Sans CJK SC&quot;, sans-serif" fill="#1b3a88" stroke="#1b3a88" stroke-width="0.28"><tspan x="131.08" y="412.88" font-size="14.29" textLength="9.67" lengthAdjust="spacingAndGlyphs" stroke-width="0.5">Φ</tspan><tspan x="142.19" y="412.42" font-size="13.06" textLength="45.63" lengthAdjust="spacingAndGlyphs">200/28°</tspan><tspan x="187.96" y="412.55" font-size="13.48" textLength="9.10" lengthAdjust="spacingAndGlyphs">P</tspan></text>
<line x1="101.5" y1="432.3" x2="83.7" y2="442.4" stroke="#56668c" stroke-width="1"/>
<rect x="42.1" y="443.4" width="63" height="12.7" fill="#c3c9d4"/>
<rect x="41.3" y="442.2" width="63" height="12.7" fill="#fff" stroke="#8d97ad" stroke-width="0.9"/>
<text font-family="&quot;Liberation Sans&quot;, &quot;Noto Sans CJK SC&quot;, sans-serif" fill="#1b3a88" stroke="#1b3a88" stroke-width="0.28"><tspan x="45.32" y="453.48" font-size="13.57" textLength="10.60" lengthAdjust="spacingAndGlyphs" stroke-width="0.5">Φ</tspan><tspan x="56.09" y="453.03" font-size="12.38" textLength="45.53" lengthAdjust="spacingAndGlyphs">200/28°</tspan></text>
<line x1="417" y1="372.8" x2="450.2" y2="360.5" stroke="#56668c" stroke-width="1"/>
<rect x="450.8" y="354.2" width="63.3" height="11.7" fill="#c3c9d4"/>
<rect x="450" y="353" width="63.3" height="11.7" fill="#fff" stroke="#8d97ad" stroke-width="0.9"/>
<text font-family="&quot;Liberation Sans&quot;, &quot;Noto Sans CJK SC&quot;, sans-serif" fill="#1b3a88" stroke="#1b3a88" stroke-width="0.28"><tspan x="453.62" y="362.99" font-size="12.00" textLength="10.60" lengthAdjust="spacingAndGlyphs" stroke-width="0.5">Φ</tspan><tspan x="465.09" y="362.54" font-size="10.88" textLength="45.32" lengthAdjust="spacingAndGlyphs">230/28°</tspan></text>
<line x1="702.3" y1="405.4" x2="724.2" y2="391.3" stroke="#56668c" stroke-width="1"/>
<rect x="724.7" y="386.4" width="63.1" height="12" fill="#c3c9d4"/>
<rect x="723.9" y="385.2" width="63.1" height="12" fill="#fff" stroke="#8d97ad" stroke-width="0.9"/>
<text font-family="&quot;Liberation Sans&quot;, &quot;Noto Sans CJK SC&quot;, sans-serif" fill="#1b3a88" stroke="#1b3a88" stroke-width="0.28"><tspan x="727.79" y="396.09" font-size="12.71" textLength="9.55" lengthAdjust="spacingAndGlyphs" stroke-width="0.5">Φ</tspan><tspan x="738.89" y="395.63" font-size="11.56" textLength="45.63" lengthAdjust="spacingAndGlyphs">254/28°</tspan></text>
<line x1="722" y1="443.2" x2="712.7" y2="454.5" stroke="#56668c" stroke-width="1"/>
<rect x="659.7" y="455.8" width="62.9" height="12.2" fill="#c3c9d4"/>
<rect x="658.9" y="454.6" width="62.9" height="12.2" fill="#fff" stroke="#8d97ad" stroke-width="0.9"/>
<text font-family="&quot;Liberation Sans&quot;, &quot;Noto Sans CJK SC&quot;, sans-serif" fill="#1b3a88" stroke="#1b3a88" stroke-width="0.28"><tspan x="662.76" y="465.19" font-size="12.00" textLength="10.02" lengthAdjust="spacingAndGlyphs" stroke-width="0.5">Φ</tspan><tspan x="673.89" y="464.74" font-size="10.88" textLength="45.63" lengthAdjust="spacingAndGlyphs">250/28°</tspan></text>
<text transform="translate(17.85,62.75) scale(0.980,1)" font-size="13.30" font-family="&quot;Liberation Sans&quot;, &quot;Noto Sans CJK SC&quot;, sans-serif" fill="#1b3a88" stroke="#1b3a88" stroke-width="0.35">50</text>
<text transform="translate(17.85,79.13) scale(0.980,1)" font-size="13.30" font-family="&quot;Liberation Sans&quot;, &quot;Noto Sans CJK SC&quot;, sans-serif" fill="#1b3a88" stroke="#1b3a88" stroke-width="0.35">45</text>
<text transform="translate(17.85,95.51) scale(0.980,1)" font-size="13.30" font-family="&quot;Liberation Sans&quot;, &quot;Noto Sans CJK SC&quot;, sans-serif" fill="#1b3a88" stroke="#1b3a88" stroke-width="0.35">40</text>
<text transform="translate(17.85,111.89) scale(0.980,1)" font-size="13.30" font-family="&quot;Liberation Sans&quot;, &quot;Noto Sans CJK SC&quot;, sans-serif" fill="#1b3a88" stroke="#1b3a88" stroke-width="0.35">35</text>
<text transform="translate(17.85,128.27) scale(0.980,1)" font-size="13.30" font-family="&quot;Liberation Sans&quot;, &quot;Noto Sans CJK SC&quot;, sans-serif" fill="#1b3a88" stroke="#1b3a88" stroke-width="0.35">30</text>
<text transform="translate(17.85,144.65) scale(0.980,1)" font-size="13.30" font-family="&quot;Liberation Sans&quot;, &quot;Noto Sans CJK SC&quot;, sans-serif" fill="#1b3a88" stroke="#1b3a88" stroke-width="0.35">25</text>
<text transform="translate(17.85,161.03) scale(0.980,1)" font-size="13.30" font-family="&quot;Liberation Sans&quot;, &quot;Noto Sans CJK SC&quot;, sans-serif" fill="#1b3a88" stroke="#1b3a88" stroke-width="0.35">20</text>
<text transform="translate(17.85,177.41) scale(0.980,1)" font-size="13.30" font-family="&quot;Liberation Sans&quot;, &quot;Noto Sans CJK SC&quot;, sans-serif" fill="#1b3a88" stroke="#1b3a88" stroke-width="0.35">15</text>
<text transform="translate(17.85,193.79) scale(0.980,1)" font-size="13.30" font-family="&quot;Liberation Sans&quot;, &quot;Noto Sans CJK SC&quot;, sans-serif" fill="#1b3a88" stroke="#1b3a88" stroke-width="0.35">10</text>
<text transform="translate(25.09,210.17) scale(0.980,1)" font-size="13.30" font-family="&quot;Liberation Sans&quot;, &quot;Noto Sans CJK SC&quot;, sans-serif" fill="#1b3a88" stroke="#1b3a88" stroke-width="0.35">5</text>
<text transform="translate(24.95,243.6) scale(1.070,1)" font-size="12.30" font-family="&quot;Liberation Sans&quot;, &quot;Noto Sans CJK SC&quot;, sans-serif" fill="#1b3a88" stroke="#1b3a88" stroke-width="0.35">0</text>
<text transform="translate(47.74,243.6) scale(1.070,1)" font-size="12.30" font-family="&quot;Liberation Sans&quot;, &quot;Noto Sans CJK SC&quot;, sans-serif" fill="#1b3a88" stroke="#1b3a88" stroke-width="0.35">400</text>
<text transform="translate(87.98,243.6) scale(1.070,1)" font-size="12.30" font-family="&quot;Liberation Sans&quot;, &quot;Noto Sans CJK SC&quot;, sans-serif" fill="#1b3a88" stroke="#1b3a88" stroke-width="0.35">600</text>
<text transform="translate(128.71,243.6) scale(1.070,1)" font-size="12.30" font-family="&quot;Liberation Sans&quot;, &quot;Noto Sans CJK SC&quot;, sans-serif" fill="#1b3a88" stroke="#1b3a88" stroke-width="0.35">800</text>
<text transform="translate(164.13,243.6) scale(1.070,1)" font-size="12.30" font-family="&quot;Liberation Sans&quot;, &quot;Noto Sans CJK SC&quot;, sans-serif" fill="#1b3a88" stroke="#1b3a88" stroke-width="0.35">1000</text>
<text transform="translate(204.53,243.6) scale(1.070,1)" font-size="12.30" font-family="&quot;Liberation Sans&quot;, &quot;Noto Sans CJK SC&quot;, sans-serif" fill="#1b3a88" stroke="#1b3a88" stroke-width="0.35">1200</text>
<text font-family="&quot;Liberation Sans&quot;, &quot;Noto Sans CJK SC&quot;, sans-serif" fill="#1b3a88" stroke="#1b3a88" stroke-width="0.35"><tspan x="242.67" y="242.61" font-size="12.09" textLength="3.77" lengthAdjust="spacingAndGlyphs">(</tspan><tspan x="246.27" y="242.45" font-size="11.30" textLength="11.31" lengthAdjust="spacingAndGlyphs">m</tspan><tspan x="256.94" y="241.59" font-size="12.00" textLength="4.55" lengthAdjust="spacingAndGlyphs" stroke-width="0.25">³</tspan><tspan x="261.65" y="242.53" font-size="11.70" textLength="4.04" lengthAdjust="spacingAndGlyphs">/</tspan><tspan x="268.37" y="242.95" font-size="11.59" textLength="7.02" lengthAdjust="spacingAndGlyphs">h</tspan><tspan x="277.23" y="242.61" font-size="12.09" textLength="3.97" lengthAdjust="spacingAndGlyphs">)</tspan></text>
<text transform="translate(319.52,62.75) scale(0.980,1)" font-size="13.30" font-family="&quot;Liberation Sans&quot;, &quot;Noto Sans CJK SC&quot;, sans-serif" fill="#1b3a88" stroke="#1b3a88" stroke-width="0.35">100</text>
<text transform="translate(323.45,79.13) scale(0.980,1)" font-size="13.30" font-family="&quot;Liberation Sans&quot;, &quot;Noto Sans CJK SC&quot;, sans-serif" fill="#1b3a88" stroke="#1b3a88" stroke-width="0.35">90</text>
<text transform="translate(323.45,95.51) scale(0.980,1)" font-size="13.30" font-family="&quot;Liberation Sans&quot;, &quot;Noto Sans CJK SC&quot;, sans-serif" fill="#1b3a88" stroke="#1b3a88" stroke-width="0.35">80</text>
<text transform="translate(323.45,111.89) scale(0.980,1)" font-size="13.30" font-family="&quot;Liberation Sans&quot;, &quot;Noto Sans CJK SC&quot;, sans-serif" fill="#1b3a88" stroke="#1b3a88" stroke-width="0.35">70</text>
<text transform="translate(323.45,128.27) scale(0.980,1)" font-size="13.30" font-family="&quot;Liberation Sans&quot;, &quot;Noto Sans CJK SC&quot;, sans-serif" fill="#1b3a88" stroke="#1b3a88" stroke-width="0.35">60</text>
<text transform="translate(323.45,144.65) scale(0.980,1)" font-size="13.30" font-family="&quot;Liberation Sans&quot;, &quot;Noto Sans CJK SC&quot;, sans-serif" fill="#1b3a88" stroke="#1b3a88" stroke-width="0.35">50</text>
<text transform="translate(323.45,161.03) scale(0.980,1)" font-size="13.30" font-family="&quot;Liberation Sans&quot;, &quot;Noto Sans CJK SC&quot;, sans-serif" fill="#1b3a88" stroke="#1b3a88" stroke-width="0.35">40</text>
<text transform="translate(323.45,177.41) scale(0.980,1)" font-size="13.30" font-family="&quot;Liberation Sans&quot;, &quot;Noto Sans CJK SC&quot;, sans-serif" fill="#1b3a88" stroke="#1b3a88" stroke-width="0.35">30</text>
<text transform="translate(323.45,193.79) scale(0.980,1)" font-size="13.30" font-family="&quot;Liberation Sans&quot;, &quot;Noto Sans CJK SC&quot;, sans-serif" fill="#1b3a88" stroke="#1b3a88" stroke-width="0.35">20</text>
<text transform="translate(323.45,210.17) scale(0.980,1)" font-size="13.30" font-family="&quot;Liberation Sans&quot;, &quot;Noto Sans CJK SC&quot;, sans-serif" fill="#1b3a88" stroke="#1b3a88" stroke-width="0.35">10</text>
<text transform="translate(330.15,243.6) scale(1.070,1)" font-size="12.30" font-family="&quot;Liberation Sans&quot;, &quot;Noto Sans CJK SC&quot;, sans-serif" fill="#1b3a88" stroke="#1b3a88" stroke-width="0.35">0</text>
<text transform="translate(352.98,243.6) scale(1.070,1)" font-size="12.30" font-family="&quot;Liberation Sans&quot;, &quot;Noto Sans CJK SC&quot;, sans-serif" fill="#1b3a88" stroke="#1b3a88" stroke-width="0.35">200</text>
<text transform="translate(393.74,243.6) scale(1.070,1)" font-size="12.30" font-family="&quot;Liberation Sans&quot;, &quot;Noto Sans CJK SC&quot;, sans-serif" fill="#1b3a88" stroke="#1b3a88" stroke-width="0.35">400</text>
<text transform="translate(433.78,243.6) scale(1.070,1)" font-size="12.30" font-family="&quot;Liberation Sans&quot;, &quot;Noto Sans CJK SC&quot;, sans-serif" fill="#1b3a88" stroke="#1b3a88" stroke-width="0.35">600</text>
<text transform="translate(476.01,243.6) scale(1.070,1)" font-size="12.30" font-family="&quot;Liberation Sans&quot;, &quot;Noto Sans CJK SC&quot;, sans-serif" fill="#1b3a88" stroke="#1b3a88" stroke-width="0.35">800</text>
<text transform="translate(509.63,243.6) scale(1.070,1)" font-size="12.30" font-family="&quot;Liberation Sans&quot;, &quot;Noto Sans CJK SC&quot;, sans-serif" fill="#1b3a88" stroke="#1b3a88" stroke-width="0.35">1000</text>
<text font-family="&quot;Liberation Sans&quot;, &quot;Noto Sans CJK SC&quot;, sans-serif" fill="#1b3a88" stroke="#1b3a88" stroke-width="0.35"><tspan x="544.27" y="242.61" font-size="12.09" textLength="3.77" lengthAdjust="spacingAndGlyphs">(</tspan><tspan x="547.87" y="242.45" font-size="11.30" textLength="11.31" lengthAdjust="spacingAndGlyphs">m</tspan><tspan x="558.54" y="241.59" font-size="12.00" textLength="4.55" lengthAdjust="spacingAndGlyphs" stroke-width="0.25">³</tspan><tspan x="563.25" y="242.53" font-size="11.70" textLength="4.04" lengthAdjust="spacingAndGlyphs">/</tspan><tspan x="569.97" y="242.95" font-size="11.59" textLength="7.02" lengthAdjust="spacingAndGlyphs">h</tspan><tspan x="578.83" y="242.61" font-size="12.09" textLength="3.97" lengthAdjust="spacingAndGlyphs">)</tspan></text>
<text transform="translate(627.45,62.75) scale(0.980,1)" font-size="13.30" font-family="&quot;Liberation Sans&quot;, &quot;Noto Sans CJK SC&quot;, sans-serif" fill="#1b3a88" stroke="#1b3a88" stroke-width="0.35">50</text>
<text transform="translate(627.45,79.13) scale(0.980,1)" font-size="13.30" font-family="&quot;Liberation Sans&quot;, &quot;Noto Sans CJK SC&quot;, sans-serif" fill="#1b3a88" stroke="#1b3a88" stroke-width="0.35">45</text>
<text transform="translate(627.45,95.51) scale(0.980,1)" font-size="13.30" font-family="&quot;Liberation Sans&quot;, &quot;Noto Sans CJK SC&quot;, sans-serif" fill="#1b3a88" stroke="#1b3a88" stroke-width="0.35">40</text>
<text transform="translate(627.45,111.89) scale(0.980,1)" font-size="13.30" font-family="&quot;Liberation Sans&quot;, &quot;Noto Sans CJK SC&quot;, sans-serif" fill="#1b3a88" stroke="#1b3a88" stroke-width="0.35">35</text>
<text transform="translate(627.45,128.27) scale(0.980,1)" font-size="13.30" font-family="&quot;Liberation Sans&quot;, &quot;Noto Sans CJK SC&quot;, sans-serif" fill="#1b3a88" stroke="#1b3a88" stroke-width="0.35">30</text>
<text transform="translate(627.45,144.65) scale(0.980,1)" font-size="13.30" font-family="&quot;Liberation Sans&quot;, &quot;Noto Sans CJK SC&quot;, sans-serif" fill="#1b3a88" stroke="#1b3a88" stroke-width="0.35">25</text>
<text transform="translate(627.45,161.03) scale(0.980,1)" font-size="13.30" font-family="&quot;Liberation Sans&quot;, &quot;Noto Sans CJK SC&quot;, sans-serif" fill="#1b3a88" stroke="#1b3a88" stroke-width="0.35">20</text>
<text transform="translate(627.45,177.41) scale(0.980,1)" font-size="13.30" font-family="&quot;Liberation Sans&quot;, &quot;Noto Sans CJK SC&quot;, sans-serif" fill="#1b3a88" stroke="#1b3a88" stroke-width="0.35">15</text>
<text transform="translate(627.45,193.79) scale(0.980,1)" font-size="13.30" font-family="&quot;Liberation Sans&quot;, &quot;Noto Sans CJK SC&quot;, sans-serif" fill="#1b3a88" stroke="#1b3a88" stroke-width="0.35">10</text>
<text transform="translate(634.69,210.17) scale(0.980,1)" font-size="13.30" font-family="&quot;Liberation Sans&quot;, &quot;Noto Sans CJK SC&quot;, sans-serif" fill="#1b3a88" stroke="#1b3a88" stroke-width="0.35">5</text>
<text transform="translate(635.25,243.6) scale(1.070,1)" font-size="12.30" font-family="&quot;Liberation Sans&quot;, &quot;Noto Sans CJK SC&quot;, sans-serif" fill="#1b3a88" stroke="#1b3a88" stroke-width="0.35">0</text>
<text transform="translate(658.34,243.6) scale(1.070,1)" font-size="12.30" font-family="&quot;Liberation Sans&quot;, &quot;Noto Sans CJK SC&quot;, sans-serif" fill="#1b3a88" stroke="#1b3a88" stroke-width="0.35">400</text>
<text transform="translate(698.58,243.6) scale(1.070,1)" font-size="12.30" font-family="&quot;Liberation Sans&quot;, &quot;Noto Sans CJK SC&quot;, sans-serif" fill="#1b3a88" stroke="#1b3a88" stroke-width="0.35">600</text>
<text transform="translate(739.01,243.6) scale(1.070,1)" font-size="12.30" font-family="&quot;Liberation Sans&quot;, &quot;Noto Sans CJK SC&quot;, sans-serif" fill="#1b3a88" stroke="#1b3a88" stroke-width="0.35">800</text>
<text transform="translate(774.33,243.6) scale(1.070,1)" font-size="12.30" font-family="&quot;Liberation Sans&quot;, &quot;Noto Sans CJK SC&quot;, sans-serif" fill="#1b3a88" stroke="#1b3a88" stroke-width="0.35">1000</text>
<text transform="translate(814.73,243.6) scale(1.070,1)" font-size="12.30" font-family="&quot;Liberation Sans&quot;, &quot;Noto Sans CJK SC&quot;, sans-serif" fill="#1b3a88" stroke="#1b3a88" stroke-width="0.35">1200</text>
<text font-family="&quot;Liberation Sans&quot;, &quot;Noto Sans CJK SC&quot;, sans-serif" fill="#1b3a88" stroke="#1b3a88" stroke-width="0.35"><tspan x="844.87" y="242.61" font-size="12.09" textLength="3.77" lengthAdjust="spacingAndGlyphs">(</tspan><tspan x="848.47" y="242.45" font-size="11.30" textLength="11.31" lengthAdjust="spacingAndGlyphs">m</tspan><tspan x="859.14" y="241.59" font-size="12.00" textLength="4.55" lengthAdjust="spacingAndGlyphs" stroke-width="0.25">³</tspan><tspan x="863.85" y="242.53" font-size="11.70" textLength="4.04" lengthAdjust="spacingAndGlyphs">/</tspan><tspan x="870.57" y="242.95" font-size="11.59" textLength="7.02" lengthAdjust="spacingAndGlyphs">h</tspan><tspan x="879.43" y="242.61" font-size="12.09" textLength="3.97" lengthAdjust="spacingAndGlyphs">)</tspan></text>
<text transform="translate(17.65,338.75) scale(0.980,1)" font-size="13.30" font-family="&quot;Liberation Sans&quot;, &quot;Noto Sans CJK SC&quot;, sans-serif" fill="#1b3a88" stroke="#1b3a88" stroke-width="0.35">50</text>
<text transform="translate(17.65,355.13) scale(0.980,1)" font-size="13.30" font-family="&quot;Liberation Sans&quot;, &quot;Noto Sans CJK SC&quot;, sans-serif" fill="#1b3a88" stroke="#1b3a88" stroke-width="0.35">45</text>
<text transform="translate(17.65,371.51) scale(0.980,1)" font-size="13.30" font-family="&quot;Liberation Sans&quot;, &quot;Noto Sans CJK SC&quot;, sans-serif" fill="#1b3a88" stroke="#1b3a88" stroke-width="0.35">40</text>
<text transform="translate(17.65,387.89) scale(0.980,1)" font-size="13.30" font-family="&quot;Liberation Sans&quot;, &quot;Noto Sans CJK SC&quot;, sans-serif" fill="#1b3a88" stroke="#1b3a88" stroke-width="0.35">35</text>
<text transform="translate(17.65,404.27) scale(0.980,1)" font-size="13.30" font-family="&quot;Liberation Sans&quot;, &quot;Noto Sans CJK SC&quot;, sans-serif" fill="#1b3a88" stroke="#1b3a88" stroke-width="0.35">30</text>
<text transform="translate(17.65,420.65) scale(0.980,1)" font-size="13.30" font-family="&quot;Liberation Sans&quot;, &quot;Noto Sans CJK SC&quot;, sans-serif" fill="#1b3a88" stroke="#1b3a88" stroke-width="0.35">25</text>
<text transform="translate(17.65,437.03) scale(0.980,1)" font-size="13.30" font-family="&quot;Liberation Sans&quot;, &quot;Noto Sans CJK SC&quot;, sans-serif" fill="#1b3a88" stroke="#1b3a88" stroke-width="0.35">20</text>
<text transform="translate(17.65,453.41) scale(0.980,1)" font-size="13.30" font-family="&quot;Liberation Sans&quot;, &quot;Noto Sans CJK SC&quot;, sans-serif" fill="#1b3a88" stroke="#1b3a88" stroke-width="0.35">15</text>
<text transform="translate(17.65,469.79) scale(0.980,1)" font-size="13.30" font-family="&quot;Liberation Sans&quot;, &quot;Noto Sans CJK SC&quot;, sans-serif" fill="#1b3a88" stroke="#1b3a88" stroke-width="0.35">10</text>
<text transform="translate(24.89,486.17) scale(0.980,1)" font-size="13.30" font-family="&quot;Liberation Sans&quot;, &quot;Noto Sans CJK SC&quot;, sans-serif" fill="#1b3a88" stroke="#1b3a88" stroke-width="0.35">5</text>
<text transform="translate(24.85,519.3) scale(1.070,1)" font-size="12.30" font-family="&quot;Liberation Sans&quot;, &quot;Noto Sans CJK SC&quot;, sans-serif" fill="#1b3a88" stroke="#1b3a88" stroke-width="0.35">0</text>
<text transform="translate(47.58,519.3) scale(1.070,1)" font-size="12.30" font-family="&quot;Liberation Sans&quot;, &quot;Noto Sans CJK SC&quot;, sans-serif" fill="#1b3a88" stroke="#1b3a88" stroke-width="0.35">200</text>
<text transform="translate(88.39,519.3) scale(1.070,1)" font-size="12.30" font-family="&quot;Liberation Sans&quot;, &quot;Noto Sans CJK SC&quot;, sans-serif" fill="#1b3a88" stroke="#1b3a88" stroke-width="0.35">300</text>
<text transform="translate(128.74,519.3) scale(1.070,1)" font-size="12.30" font-family="&quot;Liberation Sans&quot;, &quot;Noto Sans CJK SC&quot;, sans-serif" fill="#1b3a88" stroke="#1b3a88" stroke-width="0.35">400</text>
<text transform="translate(170.94,519.3) scale(1.070,1)" font-size="12.30" font-family="&quot;Liberation Sans&quot;, &quot;Noto Sans CJK SC&quot;, sans-serif" fill="#1b3a88" stroke="#1b3a88" stroke-width="0.35">500</text>
<text transform="translate(211.48,519.3) scale(1.070,1)" font-size="12.30" font-family="&quot;Liberation Sans&quot;, &quot;Noto Sans CJK SC&quot;, sans-serif" fill="#1b3a88" stroke="#1b3a88" stroke-width="0.35">600</text>
<text font-family="&quot;Liberation Sans&quot;, &quot;Noto Sans CJK SC&quot;, sans-serif" fill="#1b3a88" stroke="#1b3a88" stroke-width="0.35"><tspan x="242.77" y="518.61" font-size="12.09" textLength="3.77" lengthAdjust="spacingAndGlyphs">(</tspan><tspan x="246.37" y="518.45" font-size="11.30" textLength="11.31" lengthAdjust="spacingAndGlyphs">m</tspan><tspan x="257.05" y="517.59" font-size="12.00" textLength="4.55" lengthAdjust="spacingAndGlyphs" stroke-width="0.25">³</tspan><tspan x="261.75" y="518.53" font-size="11.70" textLength="4.04" lengthAdjust="spacingAndGlyphs">/</tspan><tspan x="268.47" y="518.95" font-size="11.59" textLength="7.02" lengthAdjust="spacingAndGlyphs">h</tspan><tspan x="277.33" y="518.61" font-size="12.09" textLength="3.97" lengthAdjust="spacingAndGlyphs">)</tspan></text>
<text transform="translate(323.25,338.75) scale(0.980,1)" font-size="13.30" font-family="&quot;Liberation Sans&quot;, &quot;Noto Sans CJK SC&quot;, sans-serif" fill="#1b3a88" stroke="#1b3a88" stroke-width="0.35">50</text>
<text transform="translate(323.25,355.13) scale(0.980,1)" font-size="13.30" font-family="&quot;Liberation Sans&quot;, &quot;Noto Sans CJK SC&quot;, sans-serif" fill="#1b3a88" stroke="#1b3a88" stroke-width="0.35">45</text>
<text transform="translate(323.25,371.51) scale(0.980,1)" font-size="13.30" font-family="&quot;Liberation Sans&quot;, &quot;Noto Sans CJK SC&quot;, sans-serif" fill="#1b3a88" stroke="#1b3a88" stroke-width="0.35">40</text>
<text transform="translate(323.25,387.89) scale(0.980,1)" font-size="13.30" font-family="&quot;Liberation Sans&quot;, &quot;Noto Sans CJK SC&quot;, sans-serif" fill="#1b3a88" stroke="#1b3a88" stroke-width="0.35">35</text>
<text transform="translate(323.25,404.27) scale(0.980,1)" font-size="13.30" font-family="&quot;Liberation Sans&quot;, &quot;Noto Sans CJK SC&quot;, sans-serif" fill="#1b3a88" stroke="#1b3a88" stroke-width="0.35">30</text>
<text transform="translate(323.25,420.65) scale(0.980,1)" font-size="13.30" font-family="&quot;Liberation Sans&quot;, &quot;Noto Sans CJK SC&quot;, sans-serif" fill="#1b3a88" stroke="#1b3a88" stroke-width="0.35">25</text>
<text transform="translate(323.25,437.03) scale(0.980,1)" font-size="13.30" font-family="&quot;Liberation Sans&quot;, &quot;Noto Sans CJK SC&quot;, sans-serif" fill="#1b3a88" stroke="#1b3a88" stroke-width="0.35">20</text>
<text transform="translate(323.25,453.41) scale(0.980,1)" font-size="13.30" font-family="&quot;Liberation Sans&quot;, &quot;Noto Sans CJK SC&quot;, sans-serif" fill="#1b3a88" stroke="#1b3a88" stroke-width="0.35">15</text>
<text transform="translate(323.25,469.79) scale(0.980,1)" font-size="13.30" font-family="&quot;Liberation Sans&quot;, &quot;Noto Sans CJK SC&quot;, sans-serif" fill="#1b3a88" stroke="#1b3a88" stroke-width="0.35">10</text>
<text transform="translate(330.49,486.17) scale(0.980,1)" font-size="13.30" font-family="&quot;Liberation Sans&quot;, &quot;Noto Sans CJK SC&quot;, sans-serif" fill="#1b3a88" stroke="#1b3a88" stroke-width="0.35">5</text>
<text transform="translate(330.15,519.3) scale(1.070,1)" font-size="12.30" font-family="&quot;Liberation Sans&quot;, &quot;Noto Sans CJK SC&quot;, sans-serif" fill="#1b3a88" stroke="#1b3a88" stroke-width="0.35">0</text>
<text transform="translate(353.04,519.3) scale(1.070,1)" font-size="12.30" font-family="&quot;Liberation Sans&quot;, &quot;Noto Sans CJK SC&quot;, sans-serif" fill="#1b3a88" stroke="#1b3a88" stroke-width="0.35">300</text>
<text transform="translate(393.74,519.3) scale(1.070,1)" font-size="12.30" font-family="&quot;Liberation Sans&quot;, &quot;Noto Sans CJK SC&quot;, sans-serif" fill="#1b3a88" stroke="#1b3a88" stroke-width="0.35">450</text>
<text transform="translate(433.98,519.3) scale(1.070,1)" font-size="12.30" font-family="&quot;Liberation Sans&quot;, &quot;Noto Sans CJK SC&quot;, sans-serif" fill="#1b3a88" stroke="#1b3a88" stroke-width="0.35">600</text>
<text transform="translate(476.48,519.3) scale(1.070,1)" font-size="12.30" font-family="&quot;Liberation Sans&quot;, &quot;Noto Sans CJK SC&quot;, sans-serif" fill="#1b3a88" stroke="#1b3a88" stroke-width="0.35">750</text>
<text transform="translate(516.81,519.3) scale(1.070,1)" font-size="12.30" font-family="&quot;Liberation Sans&quot;, &quot;Noto Sans CJK SC&quot;, sans-serif" fill="#1b3a88" stroke="#1b3a88" stroke-width="0.35">900</text>
<text font-family="&quot;Liberation Sans&quot;, &quot;Noto Sans CJK SC&quot;, sans-serif" fill="#1b3a88" stroke="#1b3a88" stroke-width="0.35"><tspan x="543.97" y="518.61" font-size="12.09" textLength="3.77" lengthAdjust="spacingAndGlyphs">(</tspan><tspan x="547.57" y="518.45" font-size="11.30" textLength="11.31" lengthAdjust="spacingAndGlyphs">m</tspan><tspan x="558.24" y="517.59" font-size="12.00" textLength="4.55" lengthAdjust="spacingAndGlyphs" stroke-width="0.25">³</tspan><tspan x="562.95" y="518.53" font-size="11.70" textLength="4.04" lengthAdjust="spacingAndGlyphs">/</tspan><tspan x="569.67" y="518.95" font-size="11.59" textLength="7.02" lengthAdjust="spacingAndGlyphs">h</tspan><tspan x="578.53" y="518.61" font-size="12.09" textLength="3.97" lengthAdjust="spacingAndGlyphs">)</tspan></text>
<text transform="translate(627.45,338.75) scale(0.980,1)" font-size="13.30" font-family="&quot;Liberation Sans&quot;, &quot;Noto Sans CJK SC&quot;, sans-serif" fill="#1b3a88" stroke="#1b3a88" stroke-width="0.35">50</text>
<text transform="translate(627.45,355.13) scale(0.980,1)" font-size="13.30" font-family="&quot;Liberation Sans&quot;, &quot;Noto Sans CJK SC&quot;, sans-serif" fill="#1b3a88" stroke="#1b3a88" stroke-width="0.35">45</text>
<text transform="translate(627.45,371.51) scale(0.980,1)" font-size="13.30" font-family="&quot;Liberation Sans&quot;, &quot;Noto Sans CJK SC&quot;, sans-serif" fill="#1b3a88" stroke="#1b3a88" stroke-width="0.35">40</text>
<text transform="translate(627.45,387.89) scale(0.980,1)" font-size="13.30" font-family="&quot;Liberation Sans&quot;, &quot;Noto Sans CJK SC&quot;, sans-serif" fill="#1b3a88" stroke="#1b3a88" stroke-width="0.35">35</text>
<text transform="translate(627.45,404.27) scale(0.980,1)" font-size="13.30" font-family="&quot;Liberation Sans&quot;, &quot;Noto Sans CJK SC&quot;, sans-serif" fill="#1b3a88" stroke="#1b3a88" stroke-width="0.35">30</text>
<text transform="translate(627.45,420.65) scale(0.980,1)" font-size="13.30" font-family="&quot;Liberation Sans&quot;, &quot;Noto Sans CJK SC&quot;, sans-serif" fill="#1b3a88" stroke="#1b3a88" stroke-width="0.35">25</text>
<text transform="translate(627.45,437.03) scale(0.980,1)" font-size="13.30" font-family="&quot;Liberation Sans&quot;, &quot;Noto Sans CJK SC&quot;, sans-serif" fill="#1b3a88" stroke="#1b3a88" stroke-width="0.35">20</text>
<text transform="translate(627.45,453.41) scale(0.980,1)" font-size="13.30" font-family="&quot;Liberation Sans&quot;, &quot;Noto Sans CJK SC&quot;, sans-serif" fill="#1b3a88" stroke="#1b3a88" stroke-width="0.35">15</text>
<text transform="translate(627.45,469.79) scale(0.980,1)" font-size="13.30" font-family="&quot;Liberation Sans&quot;, &quot;Noto Sans CJK SC&quot;, sans-serif" fill="#1b3a88" stroke="#1b3a88" stroke-width="0.35">10</text>
<text transform="translate(634.69,486.17) scale(0.980,1)" font-size="13.30" font-family="&quot;Liberation Sans&quot;, &quot;Noto Sans CJK SC&quot;, sans-serif" fill="#1b3a88" stroke="#1b3a88" stroke-width="0.35">5</text>
<text transform="translate(635.25,519.3) scale(1.070,1)" font-size="12.30" font-family="&quot;Liberation Sans&quot;, &quot;Noto Sans CJK SC&quot;, sans-serif" fill="#1b3a88" stroke="#1b3a88" stroke-width="0.35">0</text>
<text transform="translate(658.34,519.3) scale(1.070,1)" font-size="12.30" font-family="&quot;Liberation Sans&quot;, &quot;Noto Sans CJK SC&quot;, sans-serif" fill="#1b3a88" stroke="#1b3a88" stroke-width="0.35">400</text>
<text transform="translate(698.58,519.3) scale(1.070,1)" font-size="12.30" font-family="&quot;Liberation Sans&quot;, &quot;Noto Sans CJK SC&quot;, sans-serif" fill="#1b3a88" stroke="#1b3a88" stroke-width="0.35">600</text>
<text transform="translate(739.01,519.3) scale(1.070,1)" font-size="12.30" font-family="&quot;Liberation Sans&quot;, &quot;Noto Sans CJK SC&quot;, sans-serif" fill="#1b3a88" stroke="#1b3a88" stroke-width="0.35">800</text>
<text transform="translate(774.33,519.3) scale(1.070,1)" font-size="12.30" font-family="&quot;Liberation Sans&quot;, &quot;Noto Sans CJK SC&quot;, sans-serif" fill="#1b3a88" stroke="#1b3a88" stroke-width="0.35">1000</text>
<text transform="translate(814.73,519.3) scale(1.070,1)" font-size="12.30" font-family="&quot;Liberation Sans&quot;, &quot;Noto Sans CJK SC&quot;, sans-serif" fill="#1b3a88" stroke="#1b3a88" stroke-width="0.35">1200</text>
<text font-family="&quot;Liberation Sans&quot;, &quot;Noto Sans CJK SC&quot;, sans-serif" fill="#1b3a88" stroke="#1b3a88" stroke-width="0.35"><tspan x="844.57" y="518.61" font-size="12.09" textLength="3.77" lengthAdjust="spacingAndGlyphs">(</tspan><tspan x="848.17" y="518.45" font-size="11.30" textLength="11.31" lengthAdjust="spacingAndGlyphs">m</tspan><tspan x="858.84" y="517.59" font-size="12.00" textLength="4.55" lengthAdjust="spacingAndGlyphs" stroke-width="0.25">³</tspan><tspan x="863.55" y="518.53" font-size="11.70" textLength="4.04" lengthAdjust="spacingAndGlyphs">/</tspan><tspan x="870.27" y="518.95" font-size="11.59" textLength="7.02" lengthAdjust="spacingAndGlyphs">h</tspan><tspan x="879.13" y="518.61" font-size="12.09" textLength="3.97" lengthAdjust="spacingAndGlyphs">)</tspan></text>
<text transform="translate(27.8,45.01) rotate(-90) scale(1.010,1)" font-size="12.62" font-family="&quot;Liberation Sans&quot;, &quot;Noto Sans CJK SC&quot;, sans-serif" fill="#1b3a88" stroke="#1b3a88" stroke-width="0.5">(Pa)</text>
<text transform="translate(333.12,45) rotate(-90) scale(1.001,1)" font-size="12.51" font-family="&quot;Liberation Sans&quot;, &quot;Noto Sans CJK SC&quot;, sans-serif" fill="#1b3a88" stroke="#1b3a88" stroke-width="0.5">(Pa)</text>
<text transform="translate(638.5,45.01) rotate(-90) scale(1.010,1)" font-size="12.62" font-family="&quot;Liberation Sans&quot;, &quot;Noto Sans CJK SC&quot;, sans-serif" fill="#1b3a88" stroke="#1b3a88" stroke-width="0.5">(Pa)</text>
<text transform="translate(28.11,320.81) rotate(-90) scale(1.045,1)" font-size="12.09" font-family="&quot;Liberation Sans&quot;, &quot;Noto Sans CJK SC&quot;, sans-serif" fill="#1b3a88" stroke="#1b3a88" stroke-width="0.5">(Pa)</text>
<text transform="translate(333.12,320.58) rotate(-90) scale(0.973,1)" font-size="12.51" font-family="&quot;Liberation Sans&quot;, &quot;Noto Sans CJK SC&quot;, sans-serif" fill="#1b3a88" stroke="#1b3a88" stroke-width="0.5">(Pa)</text>
<text transform="translate(638.6,320.81) rotate(-90) scale(1.001,1)" font-size="12.62" font-family="&quot;Liberation Sans&quot;, &quot;Noto Sans CJK SC&quot;, sans-serif" fill="#1b3a88" stroke="#1b3a88" stroke-width="0.5">(Pa)</text>
<text font-family="&quot;Liberation Sans&quot;, &quot;Noto Sans CJK SC&quot;, sans-serif" fill="#1b3a88" stroke="#1b3a88" stroke-width="0.35"><tspan x="50.43" y="275.82" font-size="12.68" textLength="38.45" lengthAdjust="spacingAndGlyphs">YZF18</tspan><tspan x="88.88" y="275.82" font-size="12.68" textLength="7.48" lengthAdjust="spacingAndGlyphs">-</tspan><tspan x="96.36" y="275.82" font-size="12.68" textLength="47.72" lengthAdjust="spacingAndGlyphs">30 50Hz</tspan> <tspan x="151.79" y="275.83" font-size="12.24" textLength="46.32" lengthAdjust="spacingAndGlyphs">Air Flow</tspan><tspan x="197.69" y="276.36" font-size="12.43" textLength="38.33" lengthAdjust="spacingAndGlyphs" font-family="&quot;Liberation Sans&quot;, &quot;Noto Sans CJK SC&quot;, sans-serif" stroke-width="0.3">空气量</tspan></text>
<text font-family="&quot;Liberation Sans&quot;, &quot;Noto Sans CJK SC&quot;, sans-serif" fill="#1b3a88" stroke="#1b3a88" stroke-width="0.35"><tspan x="355.13" y="275.82" font-size="12.68" textLength="38.54" lengthAdjust="spacingAndGlyphs">YZF25</tspan><tspan x="393.66" y="275.82" font-size="12.68" textLength="7.50" lengthAdjust="spacingAndGlyphs">-</tspan><tspan x="401.16" y="275.82" font-size="12.68" textLength="47.83" lengthAdjust="spacingAndGlyphs">40 50Hz</tspan> <tspan x="456.79" y="275.83" font-size="12.24" textLength="46.32" lengthAdjust="spacingAndGlyphs">Air Flow</tspan><tspan x="502.69" y="276.36" font-size="12.43" textLength="38.33" lengthAdjust="spacingAndGlyphs" font-family="&quot;Liberation Sans&quot;, &quot;Noto Sans CJK SC&quot;, sans-serif" stroke-width="0.3">空气量</tspan></text>
<text font-family="&quot;Liberation Sans&quot;, &quot;Noto Sans CJK SC&quot;, sans-serif" fill="#1b3a88" stroke="#1b3a88" stroke-width="0.35"><tspan x="660.43" y="275.82" font-size="12.68" textLength="38.33" lengthAdjust="spacingAndGlyphs">YZF34</tspan><tspan x="698.76" y="275.82" font-size="12.68" textLength="7.46" lengthAdjust="spacingAndGlyphs">-</tspan><tspan x="706.22" y="275.82" font-size="12.68" textLength="47.57" lengthAdjust="spacingAndGlyphs">45 50Hz</tspan> <tspan x="762.09" y="275.83" font-size="12.24" textLength="46.42" lengthAdjust="spacingAndGlyphs">Air Flow</tspan><tspan x="808.1" y="276.36" font-size="12.43" textLength="37.92" lengthAdjust="spacingAndGlyphs" font-family="&quot;Liberation Sans&quot;, &quot;Noto Sans CJK SC&quot;, sans-serif" stroke-width="0.3">空气量</tspan></text>
<text font-family="&quot;Liberation Sans&quot;, &quot;Noto Sans CJK SC&quot;, sans-serif" fill="#1b3a88" stroke="#1b3a88" stroke-width="0.35"><tspan x="54.43" y="552.63" font-size="12.25" textLength="31.07" lengthAdjust="spacingAndGlyphs">YZF6</tspan><tspan x="85.51" y="552.63" font-size="12.25" textLength="7.42" lengthAdjust="spacingAndGlyphs">-</tspan><tspan x="92.93" y="552.63" font-size="12.25" textLength="47.34" lengthAdjust="spacingAndGlyphs">13 60Hz</tspan> <tspan x="147.79" y="552.63" font-size="11.84" textLength="46.22" lengthAdjust="spacingAndGlyphs">Air Flow</tspan><tspan x="193.58" y="552.62" font-size="11.68" textLength="38.85" lengthAdjust="spacingAndGlyphs" font-family="&quot;Liberation Sans&quot;, &quot;Noto Sans CJK SC&quot;, sans-serif" stroke-width="0.3">空气量</tspan></text>
<text font-family="&quot;Liberation Sans&quot;, &quot;Noto Sans CJK SC&quot;, sans-serif" fill="#1b3a88" stroke="#1b3a88" stroke-width="0.35"><tspan x="355.43" y="552.63" font-size="12.25" textLength="38.33" lengthAdjust="spacingAndGlyphs">YZF10</tspan><tspan x="393.76" y="552.63" font-size="12.25" textLength="7.46" lengthAdjust="spacingAndGlyphs">-</tspan><tspan x="401.22" y="552.63" font-size="12.25" textLength="47.57" lengthAdjust="spacingAndGlyphs">20 60Hz</tspan> <tspan x="456.69" y="552.63" font-size="11.84" textLength="45.62" lengthAdjust="spacingAndGlyphs">Air Flow</tspan><tspan x="505.87" y="552.62" font-size="11.68" textLength="39.17" lengthAdjust="spacingAndGlyphs" font-family="&quot;Liberation Sans&quot;, &quot;Noto Sans CJK SC&quot;, sans-serif" stroke-width="0.3">空气量</tspan></text>
<text font-family="&quot;Liberation Sans&quot;, &quot;Noto Sans CJK SC&quot;, sans-serif" fill="#1b3a88" stroke="#1b3a88" stroke-width="0.35"><tspan x="660.43" y="552.63" font-size="12.25" textLength="38.33" lengthAdjust="spacingAndGlyphs">YZF18</tspan><tspan x="698.76" y="552.63" font-size="12.25" textLength="7.46" lengthAdjust="spacingAndGlyphs">-</tspan><tspan x="706.22" y="552.63" font-size="12.25" textLength="47.57" lengthAdjust="spacingAndGlyphs">25 60Hz</tspan> <tspan x="761.69" y="552.63" font-size="11.84" textLength="45.62" lengthAdjust="spacingAndGlyphs">Air Flow</tspan><tspan x="818.9" y="552.62" font-size="11.68" textLength="37.92" lengthAdjust="spacingAndGlyphs" font-family="&quot;Liberation Sans&quot;, &quot;Noto Sans CJK SC&quot;, sans-serif" stroke-width="0.3">空气量</tspan></text>
</svg></body></html>
